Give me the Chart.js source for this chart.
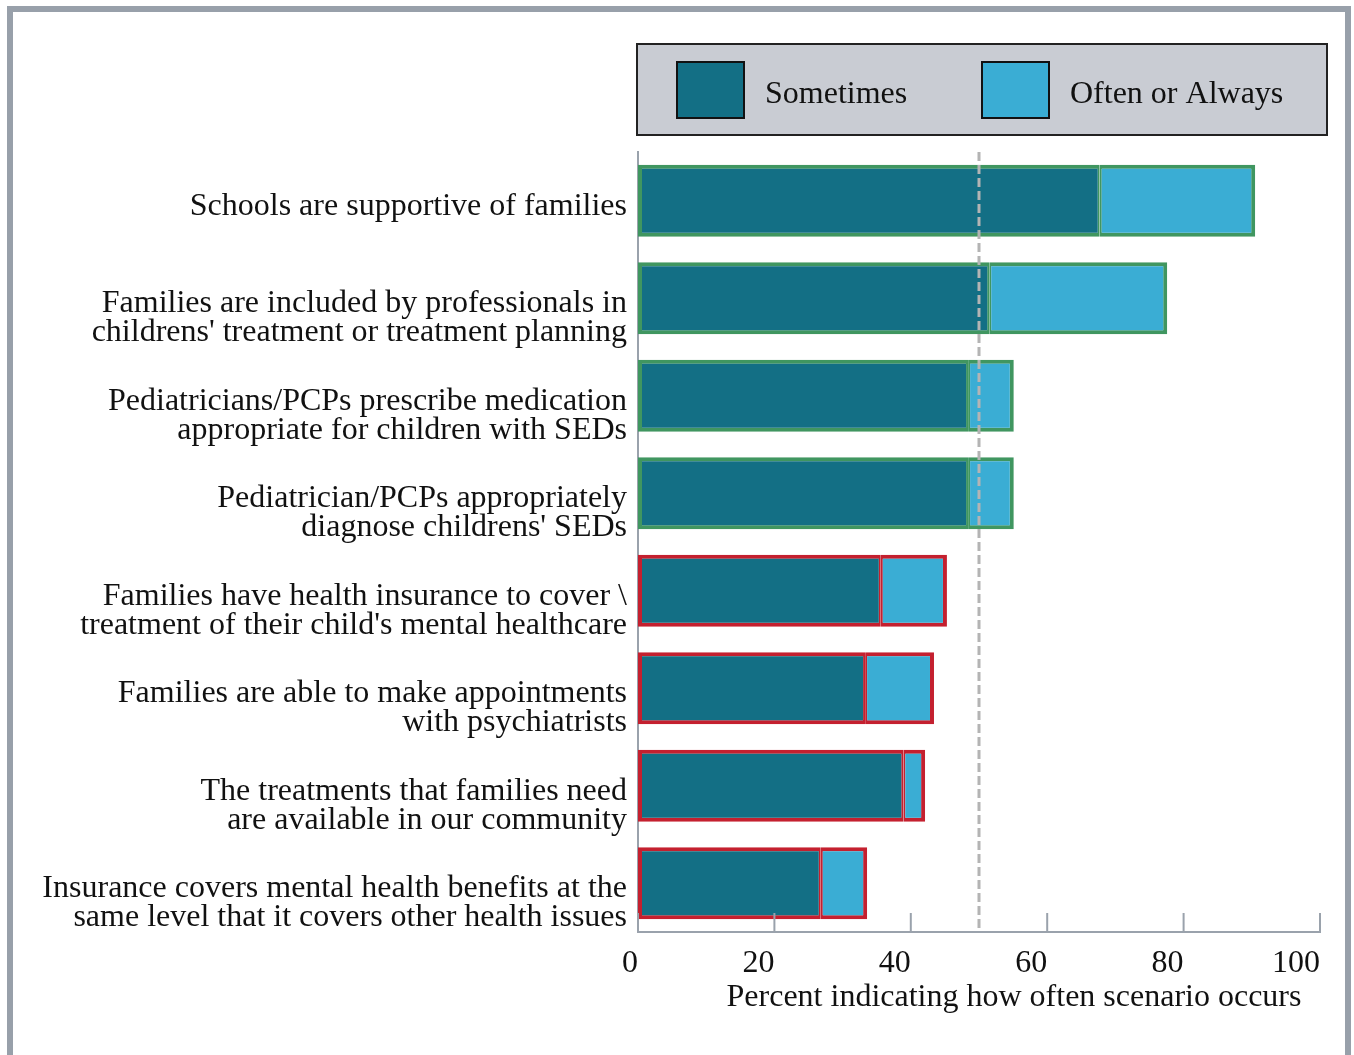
<!DOCTYPE html>
<html>
<head>
<meta charset="utf-8">
<script src="https://cdn.jsdelivr.net/npm/chart.js@4"></script>
<style>
  html, body { margin: 0; padding: 0; background: #fff; }
  .frame {
    position: absolute; left: 7px; top: 6px; width: 1332px; height: 1100px;
    border: 6px solid #98a0aa; border-bottom: none;
  }
  #chart { position: absolute; left: 0; top: 0; }
</style>
</head>
<body>
<div class="frame"></div>
<canvas id="chart" width="1354" height="1055"></canvas>
<script>
const labels = [
  ['Schools are supportive of families', ''],
  ['Families are included by professionals in', "childrens' treatment or treatment planning"],
  ['Pediatricians/PCPs prescribe medication', 'appropriate for children with SEDs'],
  ['Pediatrician/PCPs appropriately', "diagnose childrens' SEDs"],
  ['Families have health insurance to cover \\', "treatment of their child's mental healthcare"],
  ['Families are able to make appointments', 'with psychiatrists'],
  ['The treatments that families need', 'are available in our community'],
  ['Insurance covers mental health benefits at the', 'same level that it covers other health issues'],
]
const sometimes = [67.7, 51.5, 48.4, 48.4, 35.6, 33.3, 38.9, 26.8]
const oftenOrAlways = [22.8, 26.1, 6.7, 6.7, 9.7, 10.1, 3.2, 6.8]
const outlineColors = ['rgb(64,150,96)', 'rgb(64,150,96)', 'rgb(64,150,96)', 'rgb(64,150,96)',
  'rgb(196,32,47)', 'rgb(196,32,47)', 'rgb(196,32,47)', 'rgb(196,32,47)']
const xTicks = [0, 20, 40, 60, 80, 100]
const midpoint = 50

const FONT = "'Liberation Serif', 'Times New Roman', serif"
const AXIS_GREY = '#9aa2ac'

// boxed legend across the top right
const boxLegend = {
  id: 'boxLegend',
  afterDraw(chart) {
    const ctx = chart.ctx
    const ds = chart.data.datasets
    ctx.save()
    ctx.fillStyle = '#c9ccd3'
    ctx.fillRect(637, 44, 690, 91)
    ctx.strokeStyle = '#222'
    ctx.lineWidth = 2
    ctx.strokeRect(637, 44, 690, 91)
    const slots = [677, 982]
    ctx.font = '32px ' + FONT
    ctx.textBaseline = 'middle'
    ds.forEach((d, i) => {
      const x = slots[i]
      ctx.fillStyle = d.backgroundColor
      ctx.fillRect(x, 62, 67, 56)
      ctx.strokeStyle = '#111'
      ctx.lineWidth = 2
      ctx.strokeRect(x, 62, 67, 56)
      ctx.fillStyle = '#111'
      ctx.fillText(d.label, x + 88, 95)
    })
    ctx.restore()
  }
}

// dashed reference line at the midpoint, on top of the bars
const midLine = {
  id: 'midLine',
  afterDatasetsDraw(chart) {
    const { ctx, chartArea, scales } = chart
    const x = scales.x.getPixelForValue(midpoint)
    ctx.save()
    ctx.strokeStyle = '#b4b4b4'
    ctx.lineWidth = 3
    ctx.setLineDash([9, 4])
    ctx.beginPath()
    ctx.moveTo(x, chartArea.top)
    ctx.lineTo(x, chartArea.bottom)
    ctx.stroke()
    ctx.restore()
  }
}

// tick marks pointing up into the plot, plus the x axis title
const innerTicks = {
  id: 'innerTicks',
  afterDraw(chart) {
    const { ctx, chartArea, scales } = chart
    ctx.save()
    ctx.strokeStyle = AXIS_GREY
    ctx.lineWidth = 2
    xTicks.forEach(v => {
      const x = scales.x.getPixelForValue(v)
      ctx.beginPath()
      ctx.moveTo(x, chartArea.bottom)
      ctx.lineTo(x, chartArea.bottom - 19)
      ctx.stroke()
    })
    ctx.fillStyle = '#111'
    ctx.font = '32px ' + FONT
    ctx.textAlign = 'center'
    ctx.textBaseline = 'middle'
    ctx.fillText('Percent indicating how often scenario occurs', 1014, 998)
    ctx.restore()
  }
}

new Chart(document.getElementById('chart'), {
  type: 'bar',
  data: {
    labels,
    datasets: [
      {
        label: 'Sometimes',
        data: sometimes,
        backgroundColor: '#136f85',
        borderColor: outlineColors,
        borderWidth: { top: 4, bottom: 4, left: 4, right: 2 },
        borderSkipped: false,
      },
      {
        label: 'Often or Always',
        data: oftenOrAlways,
        backgroundColor: '#3aadd4',
        borderColor: outlineColors,
        borderWidth: { top: 4, bottom: 4, left: 2, right: 4 },
        borderSkipped: false,
      },
    ]
  },
  options: {
    indexAxis: 'y',
    responsive: false,
    animation: false,
    barPercentage: 0.74,
    categoryPercentage: 1,
    layout: { padding: { top: 152, left: 20, right: 34, bottom: 33 } },
    plugins: {
      legend: { display: false },
      tooltip: { enabled: false },
    },
    scales: {
      x: {
        stacked: true,
        min: 0,
        max: 100,
        afterBuildTicks: (scale) => { scale.ticks = xTicks.map(v => ({ value: v })) },
        afterFit: (scale) => { scale.height = 90 },
        grid: { display: false, drawTicks: false },
        border: { display: true, color: AXIS_GREY, width: 2 },
        ticks: {
          align: 'end',
          padding: 12,
          color: '#111',
          font: { family: FONT, size: 32 },
          maxRotation: 0,
        },
      },
      y: {
        stacked: true,
        afterFit: (scale) => { scale.width = 618 },
        grid: { display: false, drawTicks: false },
        border: { display: true, color: AXIS_GREY, width: 2 },
        ticks: {
          padding: 11,
          labelOffset: 20,
          color: '#111',
          font: { family: FONT, size: 32, lineHeight: 29 / 32 },
          autoSkip: false,
        },
      },
    },
  },
  plugins: [boxLegend, midLine, innerTicks],
})
</script>
</body>
</html>
